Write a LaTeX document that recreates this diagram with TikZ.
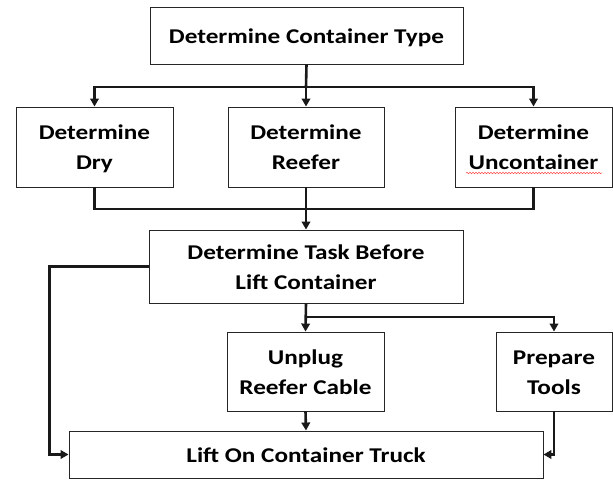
\documentclass[tikz,border=0pt]{standalone}
\usepackage{fontspec}
\setmainfont{Carlito}[FakeStretch=1.2]
\usetikzlibrary{arrows.meta,decorations.pathmorphing}
% fixed line struts so every box centres its lines the same way
\newcommand{\lnstrut}{\rule[-5pt]{0pt}{25.5pt}}
\begin{document}
\begin{tikzpicture}[x=1pt,y=-1pt,
  box/.style={draw=black!85, line width=0.9pt, fill=white, align=center,
    inner sep=0pt, font=\fontsize{21}{30}\selectfont\bfseries},
  conn/.style={line width=2.6pt, draw=black!90},
  arr/.style={conn, -{Triangle[length=8pt,width=8.5pt]}},
]
\useasboundingbox (0,0) rectangle (613,481);

% process boxes
\node[box, minimum width=313pt, minimum height=57pt] (top) at (306.5,35.5) {\lnstrut Determine Container Type};
\node[box, minimum width=157pt, minimum height=80pt] (dry) at (94.5,147) {\lnstrut Determine\\Dry\lnstrut};
\node[box, minimum width=156pt, minimum height=80pt] (reefer) at (306,147) {\lnstrut Determine\\Reefer\lnstrut};
\node[box, minimum width=157pt, minimum height=80pt] (uncont) at (533.5,147) {\lnstrut Determine\\Uncontainer\lnstrut};
\node[box, minimum width=314pt, minimum height=73pt] (task) at (306,266.5) {\lnstrut Determine Task Before\\Lift Container\lnstrut};
\node[box, minimum width=157pt, minimum height=79pt] (unplug) at (305.5,371.5) {\lnstrut Unplug\\Reefer Cable\lnstrut};
\node[box, minimum width=116pt, minimum height=79pt] (prep) at (554,371.5) {\lnstrut Prepare\\Tools\lnstrut};
\node[box, minimum width=474pt, minimum height=47pt] (lift) at (306,454.5) {\lnstrut Lift On Container Truck};

% spell-check underline
\draw[red!70, line width=0.5pt, decorate,
  decoration={snake, amplitude=0.7pt, segment length=3pt}]
  ([xshift=-67.5pt,yshift=-26pt]uncont.center) -- ([xshift=68.5pt,yshift=-26pt]uncont.center);

% split below the top box
\coordinate (s1) at (306,87);
\draw[conn] (top.south) -- (s1);
\draw[arr] (s1) -| (dry.north);
\draw[arr] (s1) -| (uncont.north);
\draw[arr] (s1) -- (reefer.north);

% merge into the task box
\coordinate (m1) at (306,209);
\draw[conn] (dry.south) |- (m1);
\draw[conn] (uncont.south) |- (m1);
\draw[arr] (reefer.south) -- (task.north);

% task box outputs
\coordinate (s2) at (306,317);
\draw[arr] (task.west) -- ++(-99,0) |- (lift.west);
\draw[arr] (task.south) -- (unplug.north);
\draw[arr] (s2) -| (prep.north);

% into the final box
\draw[arr] (unplug.south) -- (lift.north);
\draw[arr] (prep.south) |- (lift.east);
\end{tikzpicture}
\end{document}
